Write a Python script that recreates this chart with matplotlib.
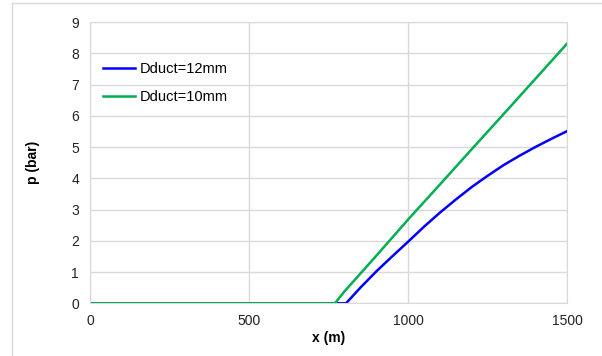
import matplotlib.pyplot as plt
from matplotlib.patches import Rectangle

plt.rcParams['font.family'] = ['Liberation Sans', 'DejaVu Sans']

# data
x12 = [0, 500, 805, 850, 900, 950, 1000, 1050, 1100, 1150, 1200, 1250, 1300,
       1350, 1400, 1450, 1500]
p12 = [0, 0, 0, 0.50, 1.02, 1.50, 1.97, 2.45, 2.90, 3.32, 3.72, 4.08, 4.42,
       4.72, 5.00, 5.26, 5.51]
x10 = [0, 500, 770, 800, 850, 900, 950, 1000, 1100, 1200, 1300, 1400, 1500]
p10 = [0, 0, 0, 0.38, 0.95, 1.52, 2.10, 2.68, 3.80, 4.93, 6.05, 7.18, 8.31]
xticks = [0, 500, 1000, 1500]
yticks = list(range(0, 10))

fig = plt.figure(figsize=(6.02, 3.56), dpi=100)
ax = fig.add_axes([0.1495, 0.148, 0.7925, 0.79])

# chart border
fig.patches.append(Rectangle((12 / 602, -0.01), 0.99, 1 - 3 / 356 + 0.01,
                             transform=fig.transFigure, fill=False,
                             edgecolor='#d9d9d9', linewidth=1))

ax.plot(x12, p12, color='#0000ff', linewidth=1.8, label='Dduct=12mm')
ax.plot(x10, p10, color='#00b050', linewidth=1.8, label='Dduct=10mm')

ax.set_xlim(0, 1500)
ax.set_ylim(0, 9)
ax.set_xticks(xticks)
ax.set_yticks(yticks)
ax.grid(True, color='#d9d9d9', linewidth=1)
ax.set_axisbelow(True)
for s in ax.spines.values():
    s.set_color('#d9d9d9')
ax.tick_params(length=0, labelsize=10, colors='#222222', pad=8)
ax.set_xlabel('x (m)', fontsize=10, fontweight='bold', labelpad=2)
ax.set_ylabel('p (bar)', fontsize=10, fontweight='bold', labelpad=22)

ax.legend(loc='upper left', bbox_to_anchor=(0.0, 0.905), frameon=False,
          fontsize=10.5, handlelength=2.2, handletextpad=0.3, labelspacing=1.0)

fig.savefig('out.png', dpi=100)
